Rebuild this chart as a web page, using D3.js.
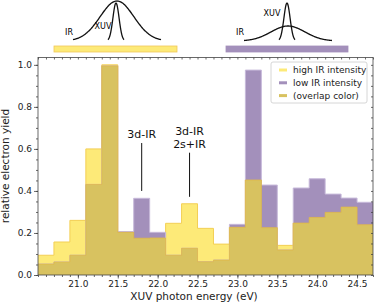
<!DOCTYPE html>
<html>
<head>
<meta charset="utf-8">
<script src="https://cdn.jsdelivr.net/npm/d3@7"></script>
<style>
  body { margin: 0; background: #fff; }
  svg { display: block; font-family: "DejaVu Sans", sans-serif; }
</style>
</head>
<body>
<svg width="374" height="307"></svg>
<script>
// bin centres (eV), bins are 0.2 eV wide
var energies = [20.6, 20.8, 21.0, 21.2, 21.4, 21.6, 21.8, 22.0, 22.2, 22.4, 22.6,
                22.8, 23.0, 23.2, 23.4, 23.6, 23.8, 24.0, 24.2, 24.4, 24.6];
var highIR = [0.094, 0.157, 0.260, 0.600, 1.000, 0.203, 0.175, 0.176, 0.246, 0.339, 0.222,
              0.147, 0.227, 0.452, 0.225, 0.141, 0.247, 0.274, 0.298, 0.323, 0.239];
var lowIR  = [0.052, 0.062, 0.094, 0.431, 0.995, 0.207, 0.365, 0.203, 0.094, 0.127, 0.063,
              0.071, 0.241, 0.975, 0.428, 0.119, 0.414, 0.458, 0.385, 0.366, 0.346];
var xTicks = [21.0, 21.5, 22.0, 22.5, 23.0, 23.5, 24.0, 24.5];
var yTicks = [0.0, 0.2, 0.4, 0.6, 0.8, 1.0];
var legendLabels = ["high IR intensity", "low IR intensity", "(overlap color)"];
// annotations: [energy, line top, line bottom, text lines]
var notes = [
  [21.8, 0.628, 0.40, ["3d-IR"]],
  [22.4, 0.582, 0.372, ["3d-IR", "2s+IR"]]
];
// pulse sketches: IR [centre x, half width, height], XUV [centre x, half width, height]
var sketchIR  = [[117, 44, 40], [288, 44, 15]];
var sketchXUV = [[116, 8, 38], [287, 8, 38]];

var colHigh = "#fdea78", colLow = "#a390bb", colOver = "#d8c260";

var svg = d3.select("svg");
var x = d3.scaleLinear().domain([20.5, 24.7]).range([38, 373]);
var y = d3.scaleLinear().domain([0, 1.035]).range([275, 57.5]);

var clip = svg.append("defs").append("clipPath").attr("id", "plot")
  .append("rect").attr("x", 38).attr("y", 57.5).attr("width", 335).attr("height", 217.5);

function steps(vals) {
  var pts = energies.map(function (e, i) { return [e - 0.1, vals[i]]; });
  pts.push([energies[energies.length - 1] + 0.1, vals[vals.length - 1]]);
  return pts;
}
var area = d3.area().curve(d3.curveStepAfter)
  .x(function (d) { return x(d[0]); }).y0(y(0)).y1(function (d) { return y(d[1]); });
var line = d3.line().curve(d3.curveStepAfter)
  .x(function (d) { return x(d[0]); }).y(function (d) { return y(d[1]); });

var overlap = highIR.map(function (v, i) { return Math.min(v, lowIR[i]); });

var g = svg.append("g").attr("clip-path", "url(#plot)");
g.append("path").attr("d", area(steps(highIR))).attr("fill", colHigh);
g.append("path").attr("d", line(steps(highIR))).attr("fill", "none").attr("stroke", "#f3cf55").attr("stroke-width", 1);
g.append("path").attr("d", area(steps(lowIR))).attr("fill", colLow);
g.append("path").attr("d", line(steps(lowIR))).attr("fill", "none").attr("stroke", "#c7b9da").attr("stroke-width", 1);
g.append("path").attr("d", area(steps(overlap))).attr("fill", colOver);
g.append("path").attr("d", line(steps(overlap))).attr("fill", "none").attr("stroke", "#e2b946").attr("stroke-width", 0.8);

// axes
var axisCol = "#444";
function styleAxis(sel) {
  sel.select(".domain").remove();
  sel.selectAll("line").attr("stroke", axisCol).attr("stroke-width", 0.8);
  sel.selectAll("text").attr("fill", "#222").style("font-size", "9px").style("font-family", "DejaVu Sans");
}
var xMinor = d3.range(20.5, 24.71, 0.1);
var yMinor = d3.range(0, 1.03, 0.05);

svg.append("g").attr("transform", "translate(0,275)")
  .call(d3.axisBottom(x).tickValues(xMinor).tickSize(2).tickFormat(""))
  .call(styleAxis);
svg.append("g").attr("transform", "translate(0,275)")
  .call(d3.axisBottom(x).tickValues(xTicks).tickSize(3.5).tickPadding(2).tickFormat(d3.format(".1f")))
  .call(styleAxis);
svg.append("g").attr("transform", "translate(0,57.5)")
  .call(d3.axisTop(x).tickValues(xMinor).tickSize(-2).tickFormat(""))
  .call(styleAxis);
svg.append("g").attr("transform", "translate(38,0)")
  .call(d3.axisLeft(y).tickValues(yMinor).tickSize(2).tickFormat(""))
  .call(styleAxis);
svg.append("g").attr("transform", "translate(38,0)")
  .call(d3.axisLeft(y).tickValues(yTicks).tickSize(4).tickPadding(2).tickFormat(d3.format(".1f")))
  .call(styleAxis);
svg.append("g").attr("transform", "translate(373,0)")
  .call(d3.axisRight(y).tickValues(yMinor).tickSize(-2).tickFormat(""))
  .call(styleAxis);

svg.append("rect").attr("x", 38).attr("y", 57.5).attr("width", 335).attr("height", 217.5)
  .attr("fill", "none").attr("stroke", axisCol).attr("stroke-width", 0.8);

// axis labels
svg.append("text").attr("x", 194).attr("y", 300).attr("text-anchor", "middle")
  .style("font-size", "10.5px").attr("fill", "#222").text("XUV photon energy (eV)");
svg.append("text").attr("transform", "translate(9,166) rotate(-90)").attr("text-anchor", "middle")
  .style("font-size", "10.5px").attr("fill", "#222").text("relative electron yield");

// annotations
notes.forEach(function (n) {
  svg.append("line").attr("x1", x(n[0])).attr("x2", x(n[0]))
    .attr("y1", y(n[1])).attr("y2", y(n[2])).attr("stroke", "#111").attr("stroke-width", 1);
  n[3].forEach(function (t, i) {
    svg.append("text").attr("x", x(n[0])).attr("text-anchor", "middle")
      .attr("y", y(n[1]) - 5 - (n[3].length - 1 - i) * 12.5)
      .style("font-size", "11px").attr("fill", "#111").text(t);
  });
});

// legend
var lg = svg.append("g").attr("transform", "translate(271,62)");
lg.append("rect").attr("width", 96).attr("height", 41).attr("rx", 2)
  .attr("fill", "#fff").attr("fill-opacity", 0.85).attr("stroke", "#ccc").attr("stroke-width", 0.8);
[colHigh, colLow, colOver].forEach(function (c, i) {
  lg.append("line").attr("x1", 8).attr("x2", 16).attr("y1", 8 + i * 12.8).attr("y2", 8 + i * 12.8)
    .attr("stroke", c).attr("stroke-width", 3);
  lg.append("text").attr("x", 22).attr("y", 11.2 + i * 12.8).style("font-size", "9px")
    .attr("fill", "#222").text(legendLabels[i]);
});

// pulse sketches above the plot
var base = 41;
var barCols = [[colHigh, "#f0c75a"], [colLow, "#a390bb"]];
var bars = [[54, 177], [226, 348]];
bars.forEach(function (b, i) {
  svg.append("rect").attr("x", b[0]).attr("y", 46).attr("width", b[1] - b[0]).attr("height", 6)
    .attr("fill", barCols[i][0]).attr("stroke", barCols[i][1]).attr("stroke-width", 0.8);
});
function pulse(p, n) {
  var xs = d3.range(-n, n + 0.001, n / 60);
  return d3.line().curve(d3.curveBasis)(xs.map(function (t) {
    var s = p[1] / 2.6;
    return [p[0] + t, base - p[2] * Math.exp(-t * t / (2 * s * s))];
  }));
}
sketchIR.forEach(function (p) {
  svg.append("path").attr("d", pulse(p, p[1])).attr("fill", "none").attr("stroke", "#111").attr("stroke-width", 1.3);
});
sketchXUV.forEach(function (p) {
  svg.append("path").attr("d", pulse(p, p[1])).attr("fill", "none").attr("stroke", "#111").attr("stroke-width", 1.3);
});
svg.append("text").attr("x", 69).attr("y", 35).attr("text-anchor", "middle").style("font-size", "8px").text("IR");
svg.append("text").attr("x", 103).attr("y", 29).attr("text-anchor", "middle").style("font-size", "8px").text("XUV");
svg.append("text").attr("x", 240).attr("y", 35).attr("text-anchor", "middle").style("font-size", "8px").text("IR");
svg.append("text").attr("x", 272).attr("y", 15.5).attr("text-anchor", "middle").style("font-size", "8px").text("XUV");
</script>
</body>
</html>
